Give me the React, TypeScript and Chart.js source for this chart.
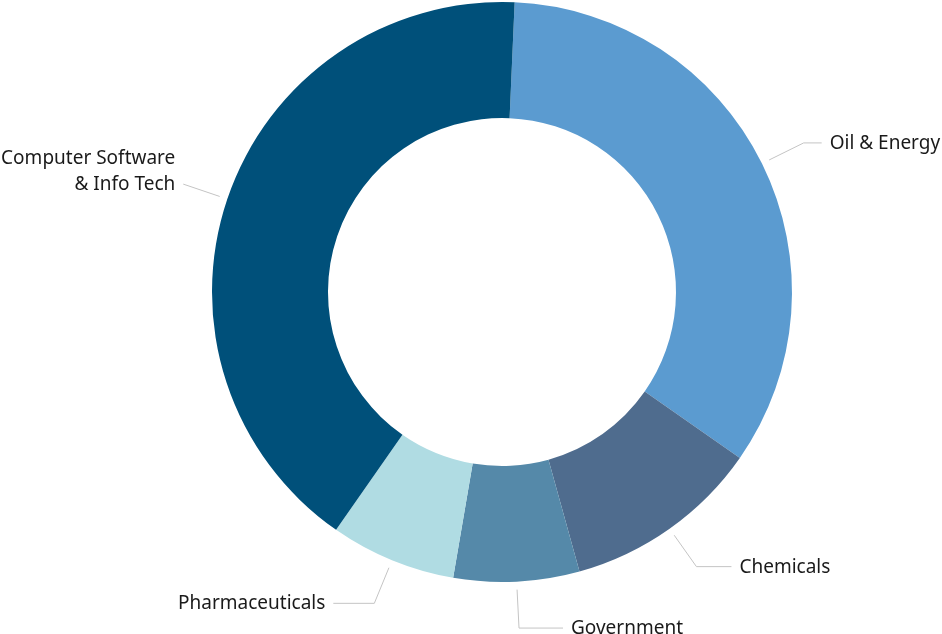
import React, { useRef, useEffect } from "react";
import { Chart, registerables } from "chart.js";

Chart.register(...registerables);

const categories: string[][] = [
  ["Oil & Energy"],
  ["Chemicals"],
  ["Government"],
  ["Pharmaceuticals"],
  ["Computer Software", "& Info Tech"],
];
const shares = [34, 11, 7, 7, 41];
const sliceColors = ["#5b9bd0", "#4f6c8e", "#5589a9", "#b0dce3", "#00507a"];

// horizontal part of each leader line, in px
const connectorTails = [18, 35, 44, 41, 0];

const outerLabels = {
  id: "outerLabels",
  afterDatasetsDraw(chart: Chart) {
    const { ctx } = chart;
    const meta = chart.getDatasetMeta(0);
    ctx.save();
    ctx.font = '19px "Noto Sans", sans-serif';
    ctx.textBaseline = "middle";
    meta.data.forEach((el: any, i: number) => {
      const { x, y, startAngle, endAngle, outerRadius } = el.getProps(
        ["x", "y", "startAngle", "endAngle", "outerRadius"],
        true
      );
      const mid = (startAngle + endAngle) / 2;
      const cos = Math.cos(mid);
      const sin = Math.sin(mid);
      const x0 = x + cos * (outerRadius + 8);
      const y0 = y + sin * (outerRadius + 8);
      const x1 = x + cos * (outerRadius + 46.5);
      const y1 = y + sin * (outerRadius + 46.5);
      const dir = cos >= 0 ? 1 : -1;
      const x2 = x1 + dir * connectorTails[i];

      ctx.strokeStyle = "#c4c4c4";
      ctx.lineWidth = 1;
      ctx.beginPath();
      ctx.moveTo(x0, y0);
      ctx.lineTo(x1, y1);
      ctx.lineTo(x2, y1);
      ctx.stroke();

      const lines = categories[i];
      ctx.fillStyle = "#1a1a1a";
      ctx.textAlign = dir > 0 ? "left" : "right";
      const tx = x2 + dir * 8;
      lines.forEach((line, k) => {
        ctx.fillText(line, tx, y1 + 0.5 - (lines.length - 1 - k) * 26);
      });
    });
    ctx.restore();
  },
};

const App = () => {
  const chartRef = useRef<HTMLCanvasElement>(null);
  const chartInstanceRef = useRef<Chart | null>(null);

  useEffect(() => {
    if (chartRef.current) {
      const context = chartRef.current.getContext("2d");
      if (context) {
        if (chartInstanceRef.current) {
          chartInstanceRef.current.destroy();
        }
        chartInstanceRef.current = new Chart(context, {
          type: "doughnut",
          data: {
            labels: categories.map((c) => c.join(" ")),
            datasets: [
              {
                data: shares,
                backgroundColor: sliceColors,
                borderWidth: 0,
                hoverOffset: 0,
              },
            ],
          },
          options: {
            responsive: true,
            maintainAspectRatio: false,
            animation: false,
            cutout: "60%",
            rotation: 2.5,
            layout: {
              padding: { top: 2, bottom: 52, left: 162, right: 100 },
            },
            plugins: {
              legend: { display: false },
              tooltip: { enabled: false },
            },
          },
          plugins: [outerLabels],
        });
      }
    }

    return () => {
      if (chartInstanceRef.current) {
        chartInstanceRef.current.destroy();
        chartInstanceRef.current = null;
      }
    };
  }, []);

  return (
    <div
      style={{
        position: "absolute",
        left: 0,
        top: 0,
        width: 942,
        height: 634,
        background: "#fff",
      }}
    >
      <canvas ref={chartRef}></canvas>
    </div>
  );
};

export default App;
